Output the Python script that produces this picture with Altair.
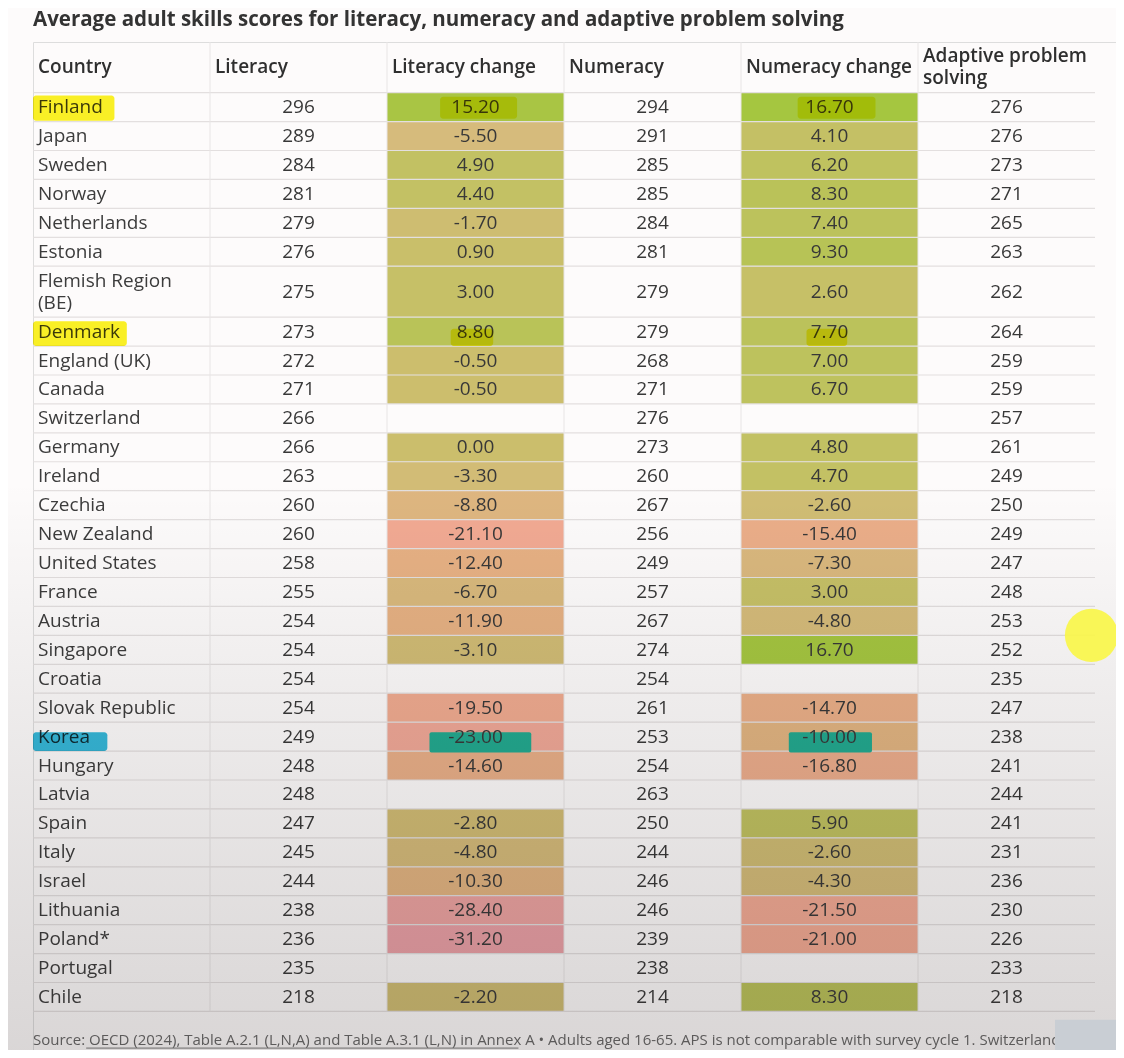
import altair as alt
import pandas as pd

# ---------------- data ----------------
title_text = "Average adult skills scores for literacy, numeracy and adaptive problem solving"
headers = ["Country", "Literacy", "Literacy change", "Numeracy", "Numeracy change", "Adaptive problem\nsolving"]
countries = ["Finland", "Japan", "Sweden", "Norway", "Netherlands", "Estonia", "Flemish Region\n(BE)",
             "Denmark", "England (UK)", "Canada", "Switzerland", "Germany", "Ireland", "Czechia",
             "New Zealand", "United States", "France", "Austria", "Singapore", "Croatia",
             "Slovak Republic", "Korea", "Hungary", "Latvia", "Spain", "Italy", "Israel",
             "Lithuania", "Poland*", "Portugal", "Chile"]
literacy = [296, 289, 284, 281, 279, 276, 275, 273, 272, 271, 266, 266, 263, 260, 260, 258, 255,
            254, 254, 254, 254, 249, 248, 248, 247, 245, 244, 238, 236, 235, 218]
literacy_change = [15.2, -5.5, 4.9, 4.4, -1.7, 0.9, 3.0, 8.8, -0.5, -0.5, None, 0.0, -3.3, -8.8,
                   -21.1, -12.4, -6.7, -11.9, -3.1, None, -19.5, -23.0, -14.6, None, -2.8, -4.8,
                   -10.3, -28.4, -31.2, None, -2.2]
numeracy = [294, 291, 285, 285, 284, 281, 279, 279, 268, 271, 276, 273, 260, 267, 256, 249, 257,
            267, 274, 254, 261, 253, 254, 263, 250, 244, 246, 246, 239, 238, 214]
numeracy_change = [16.7, 4.1, 6.2, 8.3, 7.4, 9.3, 2.6, 7.7, 7.0, 6.7, None, 4.8, 4.7, -2.6, -15.4,
                   -7.3, 3.0, -4.8, 16.7, None, -14.7, -10.0, -16.8, None, 5.9, -2.6, -4.3, -21.5,
                   -21.0, None, 8.3]
aps = [276, 276, 273, 271, 265, 263, 262, 264, 259, 259, 257, 261, 249, 250, 249, 247, 248, 253,
       252, 235, 247, 238, 241, 244, 241, 231, 236, 230, 226, 233, 218]
footer_prefix = "Source: "
footer_link = "OECD (2024), Table A.2.1 (L,N,A) and Table A.3.1 (L,N) in Annex A"
footer_rest = (" \u2022 Adults aged 16-65. APS is not comparable with survey cycle 1. Switzerland,")
footer_line2 = "Croatia, Latvia and Portugal did not participate in survey cycle 1."
# highlighter strokes drawn on the screenshot: (country, column, colour, blend, x0, x1, y0, y1 as cell fractions)
highlights = [
    ("Finland", 0, "#fbf31a", "multiply", 0.00, 0.46, 0.10, 0.97),
    ("Finland", 2, "#fbf31a", "multiply", 0.30, 0.735, 0.14, 0.90),
    ("Finland", 4, "#fbf31a", "multiply", 0.32, 0.76, 0.14, 0.90),
    ("Denmark", 0, "#fbf31a", "multiply", 0.00, 0.53, 0.14, 1.00),
    ("Denmark", 2, "#fbf31a", "multiply", 0.36, 0.60, 0.40, 1.00),
    ("Denmark", 4, "#fbf31a", "multiply", 0.37, 0.60, 0.40, 1.00),
    ("Korea", 0, "#2ab6da", "multiply", 0.00, 0.42, 0.35, 1.00),
    ("Korea", 2, "#22a98f", "normal", 0.24, 0.815, 0.35, 1.05),
    ("Korea", 4, "#22a98f", "normal", 0.27, 0.74, 0.35, 1.05),
]

# ---------------- layout (in column / row units) ----------------
COL_PX = 177.0
ROW_PX = 28.93
PAD_L, PAD_T = 25, 34
PLOT_W = 1108 - PAD_L
PLOT_H = 1042 - PAD_T
NCOL = 6
LINE_H = 22
FS = 19
FOOT_FS = 15
FOOT_CHAR_PX = 6.65  # approximate advance of the footer font

row_units = [1.75] + [1.76 if "\n" in c else 1.0 for c in countries]
y_edges = [0.0]
for u in row_units:
    y_edges.append(y_edges[-1] + u)
table_end = y_edges[-1]


def text_y(center, label):
    # shift multi-line labels so that the block is centred in its row
    n = label.count("\n") + 1
    return center - (n - 1) * LINE_H / 2 / ROW_PX


columns = [countries, literacy, literacy_change, numeracy, numeracy_change, aps]

fill_rows, left_rows, center_rows = [], [], []
for c, h in enumerate(headers):
    left_rows.append(dict(x=c, y=text_y((y_edges[0] + y_edges[1]) / 2, h), t=h, kind="header"))
for r, name in enumerate(countries):
    y0, y1 = y_edges[r + 1], y_edges[r + 2]
    ym = (y0 + y1) / 2
    left_rows.append(dict(x=0, y=text_y(ym, name), t=name, kind="body"))
    for c in range(1, NCOL):
        v = columns[c][r]
        if v is None:
            continue
        if c in (2, 4):
            fill_rows.append(dict(x0=c, x1=c + 1, y0=y0, y1=y1, v=v))
            center_rows.append(dict(x=c + 0.5, y=ym, t=f"{v:.2f}"))
        else:
            center_rows.append(dict(x=c + 0.5, y=ym, t=str(v)))

fill_df = pd.DataFrame(fill_rows)
left_df = pd.DataFrame(left_rows)
center_df = pd.DataFrame(center_rows)
hline_df = pd.DataFrame(dict(y=y_edges[1:], x0=0, x1=NCOL))
vline_df = pd.DataFrame(dict(x=list(range(1, NCOL)), y0=0.0, y1=table_end))

hl_rows = []
for name, col, color, blend, fx0, fx1, fy0, fy1 in highlights:
    r = countries.index(name)
    y0, y1 = y_edges[r + 1], y_edges[r + 2]
    hl_rows.append(dict(x0=col + fx0, x1=col + fx1, y0=y0 + fy0 * (y1 - y0), y1=y0 + fy1 * (y1 - y0),
                        color=color, blend=blend))
hl_df = pd.DataFrame(hl_rows)

xs = alt.Scale(domain=[0, PLOT_W / COL_PX], nice=False, zero=False)
ys = alt.Scale(domain=[0, PLOT_H / ROW_PX], nice=False, zero=False, reverse=True)


def X(f):
    return alt.X(f, type="quantitative", scale=xs, axis=None)


def Y(f):
    return alt.Y(f, type="quantitative", scale=ys, axis=None)


FONT = "Open Sans"

cells = alt.Chart(fill_df).mark_rect().encode(
    x=X("x0"), x2="x1", y=Y("y0"), y2="y1",
    color=alt.Color("v:Q", legend=None, scale=alt.Scale(
        domain=[-31.2, -21, -12, -5.5, 0, 5, 16.7],
        range=["#eaa0a6", "#f2aa93", "#e6b183", "#d6bb7c", "#cbbe6c", "#c2c163", "#a5c640"],
        interpolate="rgb")),
)

hlines = alt.Chart(hline_df).mark_rule(color="#e3dfdf", strokeWidth=1.2).encode(
    x=X("x0"), x2="x1", y=Y("y"))
vlines = alt.Chart(vline_df).mark_rule(color="#e8e5e5", strokeWidth=1).encode(
    x=X("x"), y=Y("y0"), y2="y1")

hl_normal = alt.Chart(hl_df[hl_df.blend == "normal"]).mark_rect(cornerRadius=2).encode(
    x=X("x0"), x2="x1", y=Y("y0"), y2="y1", color=alt.Color("color:N", scale=None))

title_df = pd.DataFrame(dict(x=[0], y=[-0.76], t=[title_text]))
title = alt.Chart(title_df).mark_text(
    align="left", baseline="middle", font=FONT, fontSize=20.5, fontWeight="bold",
    color="#333333").encode(x=X("x"), y=Y("y"), text="t:N")

header_text = alt.Chart(left_df[left_df.kind == "header"]).mark_text(
    align="left", baseline="middle", dx=5, font=FONT, fontSize=FS, fontWeight=600,
    color="#2f2f2f", lineBreak="\n", lineHeight=LINE_H).encode(x=X("x"), y=Y("y"), text="t:N")
country_text = alt.Chart(left_df[left_df.kind == "body"]).mark_text(
    align="left", baseline="middle", dx=5, font=FONT, fontSize=FS, color="#3c3c3c",
    lineBreak="\n", lineHeight=LINE_H).encode(x=X("x"), y=Y("y"), text="t:N")
num_text = alt.Chart(center_df).mark_text(
    align="center", baseline="middle", font=FONT, fontSize=FS, color="#383838").encode(
    x=X("x"), y=Y("y"), text="t:N")

hl_multiply = alt.Chart(hl_df[hl_df.blend == "multiply"]).mark_rect(
    cornerRadius=3, blend="multiply", opacity=0.95).encode(
    x=X("x0"), x2="x1", y=Y("y0"), y2="y1", color=alt.Color("color:N", scale=None))

FOOT_Y = 34.5
footer_df = pd.DataFrame(dict(x=[0, 0], y=[FOOT_Y, FOOT_Y + 0.7],
                              t=[footer_prefix + footer_link + footer_rest, footer_line2]))
footer = alt.Chart(footer_df).mark_text(
    align="left", baseline="middle", font=FONT, fontSize=FOOT_FS, color="#666666").encode(
    x=X("x"), y=Y("y"), text="t:N")
ul_df = pd.DataFrame(dict(
    x0=[len(footer_prefix) * FOOT_CHAR_PX / COL_PX],
    x1=[(len(footer_prefix) + len(footer_link)) * FOOT_CHAR_PX / COL_PX],
    y=[FOOT_Y + 8 / ROW_PX]))
underline = alt.Chart(ul_df).mark_rule(color="#777777", strokeWidth=1).encode(
    x=X("x0"), x2="x1", y=Y("y"))

# screen vignette of the recording
vig_df = pd.DataFrame(dict(x0=[-0.2], x1=[6.3], y0=[-1.3], y1=[35.3]))
vignette = alt.Chart(vig_df).mark_rect(
    color=alt.LinearGradient(
        gradient="linear", x1=0, x2=0, y1=0, y2=1,
        stops=[alt.GradientStop(offset=0, color="rgba(0,0,0,0)"),
               alt.GradientStop(offset=0.45, color="rgba(0,0,0,0)"),
               alt.GradientStop(offset=1, color="rgba(40,30,30,0.17)")])
).encode(x=X("x0"), x2="x1", y=Y("y0"), y2="y1")

# cursor marker and player overlay
cursor_r = countries.index("Singapore")
cursor_df = pd.DataFrame(dict(x=[5.98], y=[y_edges[cursor_r + 1]]))
cursor = alt.Chart(cursor_df).mark_circle(size=2830, color="#f9f54e", opacity=0.95).encode(
    x=X("x"), y=Y("y"))
box_df = pd.DataFrame(dict(x0=[5.774], x1=[6.3], y0=[33.8], y1=[35.3]))
box = alt.Chart(box_df).mark_rect(color="#c9ced4").encode(
    x=X("x0"), x2="x1", y=Y("y0"), y2="y1")

chart = alt.layer(
    cells, hlines, vlines, hl_normal, title, header_text, country_text, num_text, hl_multiply,
    footer, underline, vignette, cursor, box
).properties(
    width=PLOT_W, height=PLOT_H,
    padding={"left": PAD_L, "top": PAD_T, "right": 0, "bottom": 0},
    autosize=alt.AutoSizeParams(type="none"),
).configure_view(stroke=None).configure(background="#fdfbfb")

chart.save("out.html", embed_options={"renderer": "svg", "actions": False})
